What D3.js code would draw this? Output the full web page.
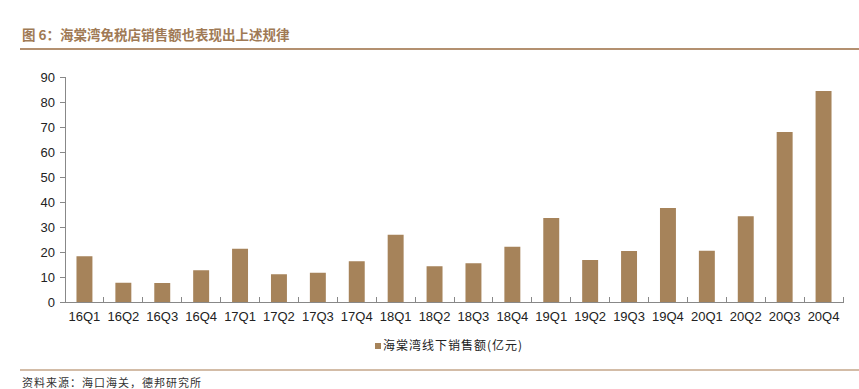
<!DOCTYPE html>
<html lang="zh">
<head>
<meta charset="utf-8">
<script src="https://d3js.org/d3.v7.min.js"></script>
<style type="text/css">
body {
  margin: 0;
  background: #fff;
}
.axis path,
.axis line {
  fill: none;
  stroke: #888;
  shape-rendering: crispEdges;
}
.axis text {
  font: 13px "Liberation Sans", Arial, sans-serif;
  fill: #222;
}
</style>
<title>海棠湾免税店销售额</title>
</head>
<body>
<script type="text/javascript">
var quarters = ["16Q1","16Q2","16Q3","16Q4","17Q1","17Q2","17Q3","17Q4","18Q1","18Q2",
                "18Q3","18Q4","19Q1","19Q2","19Q3","19Q4","20Q1","20Q2","20Q3","20Q4"];
var sales = [18.3, 7.7, 7.6, 12.7, 21.3, 11.1, 11.7, 16.3, 26.9, 14.3,
             15.5, 22.1, 33.6, 16.8, 20.4, 37.6, 20.5, 34.3, 68.0, 84.4];
var yTicks = [0,10,20,30,40,50,60,70,80,90];

var W = 859, H = 389;
var margin = {top: 77, right: 16, bottom: 87, left: 65};
var width = W - margin.left - margin.right,
    height = H - margin.top - margin.bottom;

var brown = "#a6835a";

var svg = d3.select("body").append("svg")
    .attr("width", W)
    .attr("height", H);

// title
svg.append("text")
    .attr("x", 22)
    .attr("y", 40)
    .style("font-family", "'Noto Sans CJK SC', sans-serif")
    .style("font-size", "13.5px")
    .style("font-weight", "bold")
    .style("fill", "#a07a55")
    .text("图 6：海棠湾免税店销售额也表现出上述规律");

svg.append("line")
    .attr("x1", 20).attr("x2", W)
    .attr("y1", 49).attr("y2", 49)
    .style("stroke", "#b39070")
    .style("stroke-width", 2);

var x = d3.scaleBand().domain(quarters).range([0, width]).paddingInner(0.59).paddingOuter(0.295);
var y = d3.scaleLinear().domain([0, 90]).range([height, 0]);

var g = svg.append("g")
    .attr("transform", "translate(" + margin.left + "," + margin.top + ")");

g.selectAll(".bar")
    .data(sales)
    .enter().append("rect")
    .attr("class", "bar")
    .attr("x", function(d, i) { return x(quarters[i]); })
    .attr("y", function(d) { return y(d); })
    .attr("width", x.bandwidth())
    .attr("height", function(d) { return height - y(d); })
    .attr("fill", brown);

g.append("g")
    .attr("class", "axis axis--y")
    .call(d3.axisLeft(y).tickValues(yTicks).tickSize(5).tickPadding(5));

// x axis with ticks between categories
var xb = d3.scaleBand().domain(quarters).range([0, width]);
var xAxis = g.append("g")
    .attr("class", "axis axis--x")
    .attr("transform", "translate(0," + height + ")")
    .call(d3.axisBottom(xb).tickSize(0).tickPadding(10).tickSizeOuter(0));

xAxis.selectAll(".sep")
    .data(quarters)
    .enter().append("line")
    .attr("class", "sep")
    .attr("x1", function(d) { return xb(d) + xb.bandwidth(); })
    .attr("x2", function(d) { return xb(d) + xb.bandwidth(); })
    .attr("y1", 0)
    .attr("y2", -5);

// legend
var legend = svg.append("g")
    .attr("transform", "translate(375,343)");
legend.append("rect")
    .attr("width", 6)
    .attr("height", 6)
    .attr("fill", brown);
legend.append("text")
    .attr("x", 8)
    .attr("y", 7)
    .style("font-family", "'Noto Sans CJK SC', sans-serif")
    .style("font-size", "12px")
    .style("letter-spacing", "1px")
    .style("fill", "#222")
    .text("海棠湾线下销售额(亿元)");

// bottom rule and source
svg.append("line")
    .attr("x1", 20).attr("x2", W)
    .attr("y1", 370).attr("y2", 370)
    .style("stroke", "#c4a68a")
    .style("stroke-width", 1.5);

svg.append("text")
    .attr("x", 22)
    .attr("y", 387)
    .style("font-family", "'Noto Sans CJK SC', sans-serif")
    .style("font-size", "11px")
    .style("letter-spacing", "1px")
    .style("fill", "#333")
    .text("资料来源：海口海关，德邦研究所");
</script>
</body>
</html>
